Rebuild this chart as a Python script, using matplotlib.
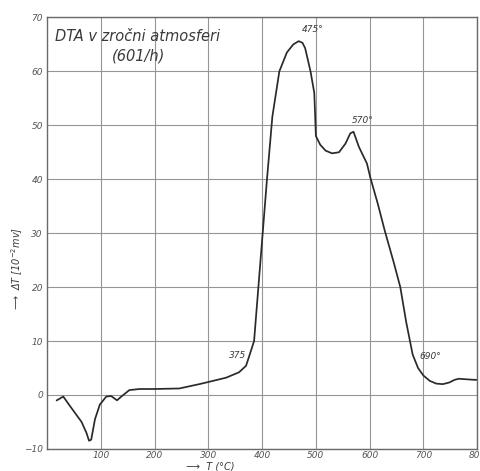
import matplotlib.pyplot as plt

# DTA curve
temp = [18, 30, 45, 64, 73, 78, 82, 89, 98, 110, 119, 130, 138, 153, 172,
        200, 246, 283, 300, 333, 357, 370, 376, 385, 393, 401, 409, 419,
        432, 446, 458, 468, 475, 480, 490, 497, 500, 508, 518, 530, 543,
        555, 564, 570, 580, 595, 601, 615, 628, 645, 657, 668, 675, 680,
        690, 700, 712, 724, 736, 748, 758, 766, 780, 795, 800]
delta_t = [-1.0, -0.3, -2.4, -5.0, -7.0, -8.5, -8.3, -4.5, -1.8, -0.3, -0.2,
           -1.0, -0.3, 0.9, 1.1, 1.1, 1.2, 2.0, 2.4, 3.2, 4.2, 5.4, 7.2,
           10.0, 20.0, 30.0, 40.0, 51.6, 60.0, 63.5, 65.0, 65.6, 65.3, 64.3,
           60.0, 56.0, 48.0, 46.4, 45.3, 44.8, 45.0, 46.6, 48.5, 48.8, 46.0,
           42.9, 40.4, 35.5, 30.5, 24.5, 20.0, 13.5, 10.0, 7.5, 5.0, 3.6,
           2.6, 2.1, 2.0, 2.3, 2.8, 3.0, 2.9, 2.8, 2.8]

xticks = [100, 200, 300, 400, 500, 600, 700, 800]
yticks = [-10, 0, 10, 20, 30, 40, 50, 60, 70]

# peak annotations: (text, x, y, alignment)
notes = [('375', 370, 6.5, 'right'),
         ('475°', 473, 67.0, 'left'),
         ('570°', 566, 50.0, 'left'),
         ('690°', 693, 6.3, 'left')]

ink = '#3a3a3a'
fig = plt.figure(figsize=(4.81, 4.71), dpi=100)
ax = fig.add_axes([0.098, 0.047, 0.894, 0.916])

ax.plot(temp, delta_t, color='#2a2a2a', linewidth=1.25)

ax.set_xlim(0, 800)
ax.set_ylim(-10, 70)
ax.set_xticks(xticks)
ax.set_yticks(yticks)
ax.set_yticklabels(['−10'] + [str(v) for v in yticks[1:]])
ax.grid(True, color='#959595', linewidth=0.8)
ax.tick_params(length=0, labelsize=6.5, labelcolor='#555555', pad=3)
ax.tick_params(axis='x', pad=1.5)
for lab in ax.get_xticklabels() + ax.get_yticklabels():
    lab.set_fontstyle('italic')
for spine in ax.spines.values():
    spine.set_color('#6a6a6a')
    spine.set_linewidth(1.0)

for txt, x, y, ha in notes:
    ax.text(x, y, txt, fontsize=6.5, style='italic', color=ink,
            ha=ha, va='bottom')

ax.text(14, 66.4, 'DTA v zročni atmosferi', fontsize=10.5, style='italic',
        color=ink, ha='left', va='center')
ax.text(171, 62.9, '(601/h)', fontsize=10.5, style='italic',
        color=ink, ha='center', va='center')

# axis labels with leading arrows
fig.text(0.035, 0.43, '⟶  ΔT [10$^{-2}$mv]', rotation=90, fontsize=7,
         style='italic', color=ink, ha='center', va='center')
fig.text(0.437, -0.002, '⟶  T (°C)', fontsize=7, style='italic',
         color=ink, ha='center', va='bottom')

fig.savefig('out.png', dpi=100)
